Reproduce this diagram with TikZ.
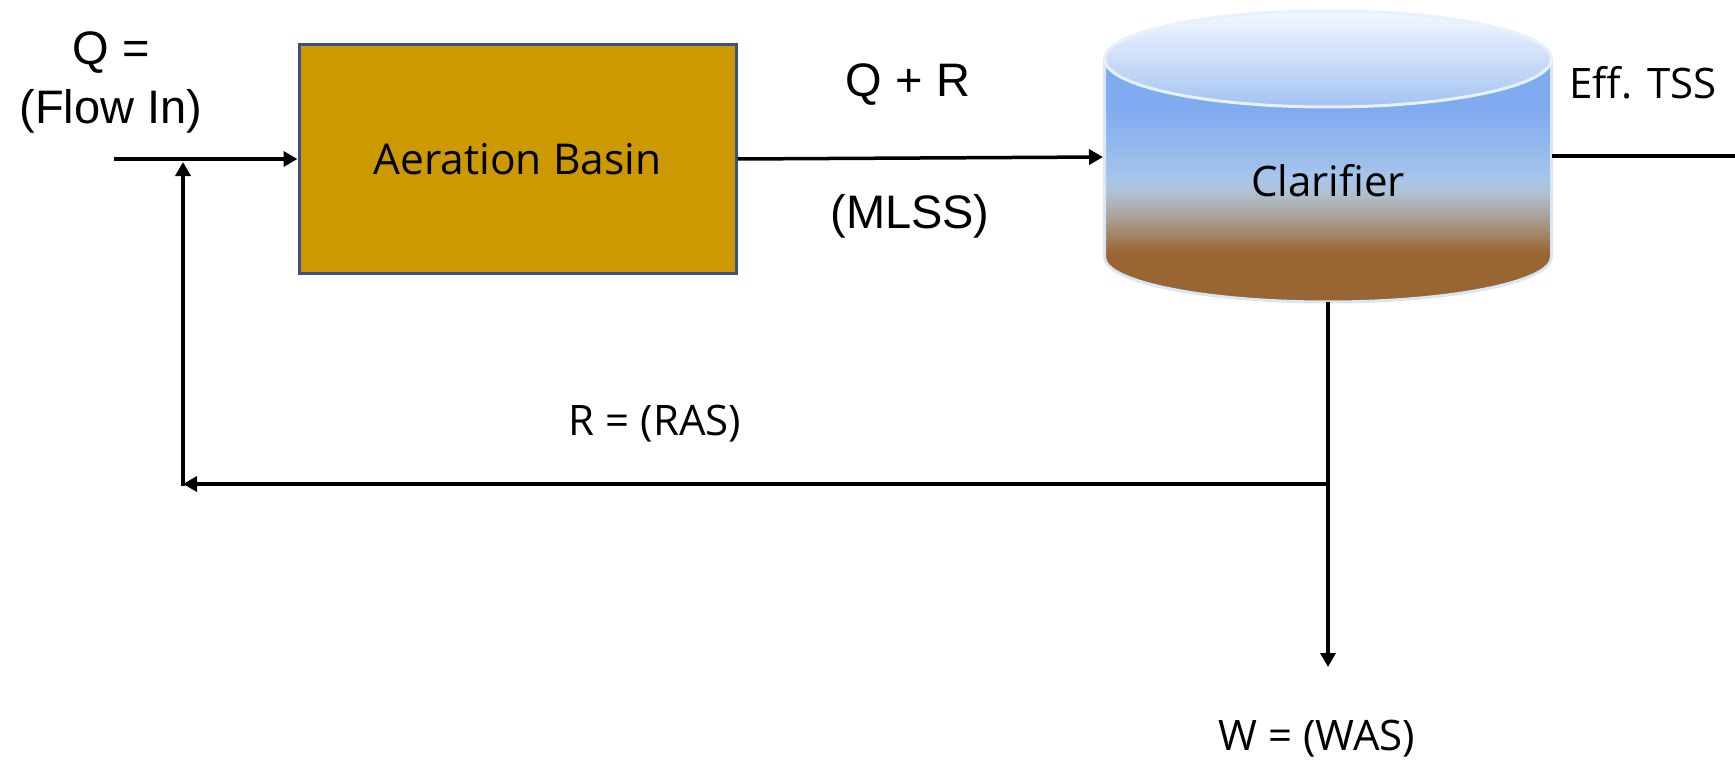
\documentclass[tikz,border=0pt]{standalone}
\usepackage{fontspec}
\setmainfont{Liberation Sans}
\newfontfamily\uifont{Open Sans}
\usetikzlibrary{arrows.meta}

\definecolor{basinfill}{HTML}{CC9900}
\definecolor{basinedge}{HTML}{3B5186}
\definecolor{sludge}{HTML}{996633}
\definecolor{sludgemid}{HTML}{9F7A55}
\definecolor{greyband}{HTML}{A89C90}
\definecolor{greyblue}{HTML}{B0C0D0}
\definecolor{paleblue}{HTML}{A8C6EA}
\definecolor{waterblue}{HTML}{80ABF0}
\definecolor{lidtop}{HTML}{F4F8FE}
\definecolor{lidbottom}{HTML}{A3C3F3}
\definecolor{rimline}{HTML}{D8E6F5}

\tikzset{
  flow/.style={line width=3.5pt, draw=black},
  tip/.style={-{Triangle[length=14pt,width=15pt]}},
  basin/.style={draw=basinedge, line width=3pt, fill=basinfill,
    minimum width=437pt, minimum height=228pt, inner sep=0pt,
    font=\uifont\fontsize{42.5}{48}\selectfont},
  arial/.style={font=\fontsize{47}{54}\selectfont, inner sep=0pt},
  ui/.style={font=\uifont\fontsize{42}{48}\selectfont, inner sep=0pt},
  layer/.style 2 args={top color=#1, bottom color=#2},
}

\begin{document}
\begin{tikzpicture}[x=1pt,y=-1pt]
\useasboundingbox (0,0) rectangle (1735,765);

% aeration basin
\node[basin] (ab) at (517.5,159) {Aeration Basin};

% clarifier tank: clear water on top, settled sludge at the bottom
\begin{scope}
  \clip (1104.5,59) -- (1104.5,257)
    arc[start angle=180,end angle=360,x radius=223.5pt,y radius=45pt]
    -- (1551.5,59)
    arc[start angle=0,end angle=-180,x radius=223.5pt,y radius=48pt] -- cycle;
  \fill[waterblue] (1100,55) rectangle (1556,110.5);
  \shade[layer={waterblue}{paleblue}] (1100,110) rectangle (1556,180.5);
  \shade[layer={paleblue}{greyblue}] (1100,180) rectangle (1556,193.5);
  \shade[layer={greyblue}{greyband}] (1100,193) rectangle (1556,220.5);
  \shade[layer={greyband}{sludgemid}] (1100,220) rectangle (1556,240.5);
  \shade[layer={sludgemid}{sludge}] (1100,240) rectangle (1556,253.5);
  \fill[sludge] (1100,253) rectangle (1556,306);
\end{scope}
\draw[rimline, line width=3pt]
  (1104.5,59) -- (1104.5,257)
  arc[start angle=180,end angle=360,x radius=223.5pt,y radius=45pt]
  -- (1551.5,59);
\shade[top color=lidtop, bottom color=lidbottom]
  (1328,59) ellipse[x radius=223.5pt,y radius=48pt];
\draw[rimline!60!white, line width=3pt]
  (1328,59) ellipse[x radius=223.5pt,y radius=48pt];
\node[ui] (cl) at (1328,181) {Clarifier};

% connection points
\coordinate (inlet) at (114,159);
\coordinate (mix) at (183,162);
\coordinate (clIn) at (1103,157);
\coordinate (clOut) at (1552,156);
\coordinate (effEnd) at (1735,156);
\coordinate (clBot) at (1328,302);
\coordinate (split) at (1328,484);
\coordinate (wasEnd) at (1328,667);
\coordinate (rasEnd) at (183,484);

% flows
\draw[flow, tip] (inlet) -- (ab.west);
\draw[flow, tip] (ab.east) -- (clIn);
\draw[flow] (clOut) -- (effEnd);
\draw[flow, tip] (clBot) -- (wasEnd);
\draw[flow, tip] (split) -- (rasEnd);
\draw[flow, tip] (183,485.75) -- (mix);

% labels
\node[arial] (qlab) at (111,53) {Q =};
\node[arial] (flowin) at (111,111) {(Flow In)};
\node[arial] (qr) at (908,85) {Q + R};
\node[arial] (mlss) at (910,216) {(MLSS)};
\node[ui] (eff) at (1643,83) {Eff. TSS};
\node[ui] (ras) at (655,424) {R = (RAS)};
\node[ui] (was) at (1317,739) {W = (WAS)};
\end{tikzpicture}
\end{document}
